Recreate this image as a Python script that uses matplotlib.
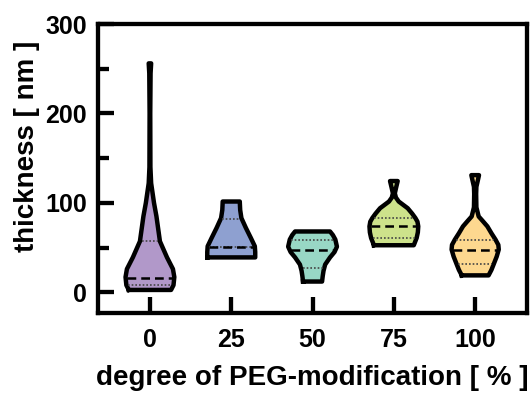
import numpy as np
import matplotlib
matplotlib.use("Agg")
import matplotlib.pyplot as plt

plt.rcParams["font.family"] = ["Liberation Sans", "DejaVu Sans"]
plt.rcParams["font.weight"] = "bold"

categories = ["0", "25", "50", "75", "100"]
colors = ["#b198c9", "#8ea0d0", "#98d7c5", "#cde28b", "#fdd88f"]

# violin outlines: thickness levels [nm] and half-widths
levels_0 = [2.6, 8, 17, 26, 39, 57, 85, 100, 122, 140, 200, 245, 256]
width_0 = [0.26, 0.29, 0.30, 0.283, 0.21, 0.123, 0.08, 0.05, 0.015, 0.006, 0.004, 0.008, 0.015]

levels_25 = [39, 45, 51.5, 61, 72, 83, 92, 101.5]
width_25 = [0.295, 0.295, 0.29, 0.24, 0.18, 0.125, 0.11, 0.105]

levels_50 = [12, 18, 24, 31, 39, 45, 51, 59, 64, 68]
width_50 = [0.117, 0.125, 0.135, 0.155, 0.215, 0.27, 0.30, 0.28, 0.25, 0.215]

levels_75 = [52.6, 60.7, 67, 73.7, 79, 83, 88, 94, 101.5, 106, 110.7, 118, 124.4]
width_75 = [0.245, 0.28, 0.295, 0.30, 0.29, 0.265, 0.225, 0.17, 0.06, 0.025, 0.012, 0.03, 0.047]

levels_100 = [18.9, 25, 31.9, 40, 47.8, 53, 58.9, 66, 73.7, 80, 84.8, 95, 110, 118, 124, 131]
width_100 = [0.165, 0.2, 0.23, 0.265, 0.29, 0.285, 0.25, 0.2, 0.15, 0.09, 0.043, 0.015, 0.012, 0.015, 0.03, 0.047]

medians = [15.6, 50.4, 47.8, 73.7, 47.8]
q1 = [8, 50.4, 26.6, 60.7, 31.9]
q3 = [57, 82, 59, 83, 58.9]

levels = [levels_0, levels_25, levels_50, levels_75, levels_100]
widths = [width_0, width_25, width_50, width_75, width_100]

fig = plt.figure(figsize=(5.32, 3.94), dpi=100)
ax = fig.add_axes([0.184, 0.206, 0.807, 0.733])

for i, (lv, wd) in enumerate(zip(levels, widths)):
    lv = np.array(lv)
    wd = np.array(wd)
    ax.fill_betweenx(lv, i - wd, i + wd, facecolor=colors[i], edgecolor="none", zorder=2)
    xs = np.concatenate([i - wd, (i + wd)[::-1], [i - wd[0]]])
    ys = np.concatenate([lv, lv[::-1], [lv[0]]])
    ax.plot(xs, ys, color="black", lw=3.2, solid_joinstyle="round", zorder=3)
    for val, style, lw, col in [(q1[i], (0, (1, 1.2)), 1.2, "#444444"),
                                (q3[i], (0, (1, 1.2)), 1.2, "#444444"),
                                (medians[i], (0, (3.5, 2)), 1.8, "black")]:
        hw = np.interp(val, lv, wd) - 0.02
        if hw > 0.02:
            ax.plot([i - hw, i + hw], [val, val], color=col, lw=lw, linestyle=style, zorder=4)

ax.set_xlim(-0.64, 4.64)
ax.set_ylim(-23, 300)
ax.set_xticks(range(len(categories)))
ax.set_xticklabels(categories)
ax.set_yticks([0, 100, 200, 300])
ax.set_yticks([50, 150, 250], minor=True)

for s in ax.spines.values():
    s.set_linewidth(3.1)
ax.tick_params(axis="both", which="major", direction="in", length=11.5, width=3.1, labelsize=18)
ax.tick_params(axis="y", which="minor", direction="in", length=8, width=3.1)
ax.tick_params(axis="y", which="major", pad=8)
ax.tick_params(axis="x", which="major", pad=11)
for lab in ax.get_xticklabels() + ax.get_yticklabels():
    lab.set_fontweight("bold")

ax.set_xlabel("degree of PEG-modification [ % ]", fontsize=20, fontweight="bold", labelpad=9)
ax.set_ylabel("thickness [ nm ]", fontsize=20, fontweight="bold")
ax.yaxis.set_label_coords(-0.135, 0.575)

fig.savefig("out.png", dpi=100)
